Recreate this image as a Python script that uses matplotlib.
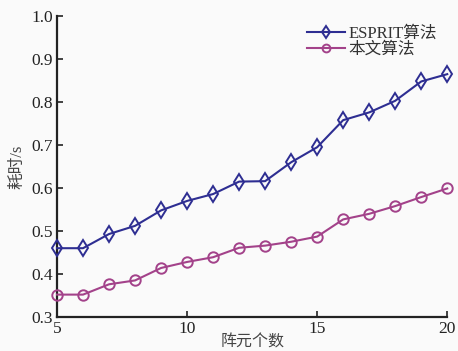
import matplotlib

matplotlib.use("Agg")
import matplotlib.pyplot as plt  # noqa: E402

# data
elements = [5, 6, 7, 8, 9, 10, 11, 12, 13, 14, 15, 16, 17, 18, 19, 20]
esprit_time = [0.460, 0.460, 0.493, 0.512, 0.548, 0.570, 0.586, 0.615, 0.616,
               0.660, 0.695, 0.758, 0.776, 0.803, 0.848, 0.865]
proposed_time = [0.352, 0.352, 0.376, 0.385, 0.414, 0.428, 0.439, 0.461, 0.466,
                 0.475, 0.487, 0.527, 0.540, 0.558, 0.579, 0.599]
series_labels = ["ESPRIT算法", "本文算法"]
x_ticks = [5, 10, 15, 20]
y_ticks = [0.3, 0.4, 0.5, 0.6, 0.7, 0.8, 0.9, 1.0]

BLUE = "#2e2e92"
MAGENTA = "#a3428a"
INK = "#222222"
FONT = ["Liberation Serif", "Noto Sans CJK SC"]

plt.rcParams["font.family"] = FONT

fig = plt.figure(figsize=(4.58, 3.51), dpi=100, facecolor="#fafafa")
ax = fig.add_axes([0.1245, 0.097, 0.852, 0.857])
ax.set_facecolor("#fafafa")

ax.plot(elements, esprit_time, color=BLUE, linewidth=1.5, marker="d",
        markersize=8, markerfacecolor="none", markeredgecolor=BLUE,
        markeredgewidth=1.4, label=series_labels[0], clip_on=False, zorder=3)
ax.plot(elements, proposed_time, color=MAGENTA, linewidth=1.5, marker="o",
        markersize=7.5, markerfacecolor="none", markeredgecolor=MAGENTA,
        markeredgewidth=1.4, label=series_labels[1], clip_on=False, zorder=3)

ax.set_xlim(5, 20)
ax.set_ylim(0.3, 1.0)
ax.set_xticks(x_ticks)
ax.set_yticks(y_ticks)
ax.set_yticklabels([f"{v:.1f}" for v in y_ticks])

for spine in ("top", "right"):
    ax.spines[spine].set_visible(False)
for spine in ("left", "bottom"):
    ax.spines[spine].set_color(INK)
    ax.spines[spine].set_linewidth(1.6)
ax.tick_params(direction="in", length=4, width=1.2, colors=INK,
               labelsize=12.5, pad=3)

ax.set_xlabel("阵元个数", fontsize=11.5, color="#444444", labelpad=-2)
ax.set_ylabel("耗时/s", fontsize=12, color="#444444", labelpad=4)

leg = ax.legend(loc="upper right", bbox_to_anchor=(1.0, 1.0), frameon=False,
                fontsize=12, handlelength=2.3, handletextpad=0.2,
                labelspacing=0.0, borderaxespad=0.2, markerscale=0.75)
for text in leg.get_texts():
    text.set_color("#333333")

fig.savefig("out.png", dpi=100, facecolor=fig.get_facecolor())
